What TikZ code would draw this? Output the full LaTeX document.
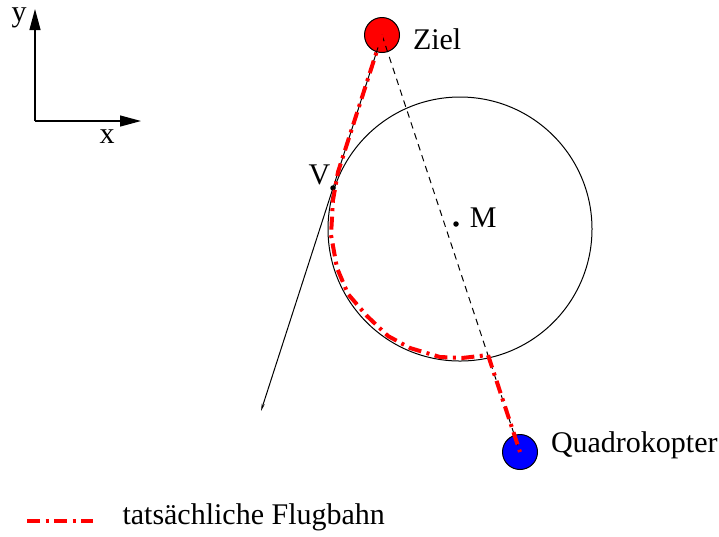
\documentclass[tikz,border=0pt]{standalone}
\usepackage{fontspec}
\setmainfont{Liberation Serif}
\usepackage{tikz}
\usetikzlibrary{arrows.meta, positioning}

\begin{document}
\begin{tikzpicture}[x=0.4pt,y=-0.4pt,>=Stealth,
    font=\fontsize{12}{14}\selectfont,
    kugel/.style={circle,draw,line width=0.4pt,minimum size=14pt,inner sep=0pt},
    punkt/.style={circle,fill,minimum size=2.2pt,inner sep=0pt},
    flugbahn/.style={red,line width=1.6pt,dash pattern=on 5.2pt off 2.2pt on 1.2pt off 2.2pt},
    beschr/.style={inner sep=0pt}]
  \useasboundingbox (0,0) rectangle (719,536);

  % Koordinatensystem
  \coordinate (ursprung) at (35,121);
  \coordinate (yachse) at (35,9);
  \coordinate (xachse) at (141,121);
  \draw[-{Triangle[length=8.4pt,width=4.4pt]},line width=0.5pt] (ursprung)--(yachse);
  \draw[-{Triangle[length=8.4pt,width=4.4pt]},line width=0.5pt] (ursprung)--(xachse);
  \node[beschr] (ylbl) at (19,18){y};
  \node[beschr] (xlbl) at (107,137){x};

  % Kreis um M
  \draw[line width=0.4pt] (460,229) circle[radius=52.8pt];

  \node[kugel,fill=red] (ziel) at (382,35){};
  \node[kugel,fill=blue] (quad) at (520,452){};
  \node[punkt] (mitte) at (456,224){};
  \node[punkt] (vpkt) at (333,188){};
  \coordinate (ende) at (261,411);

  \node[beschr,right=5pt of ziel,yshift=-1.8pt] (ziellbl){Ziel};
  \node[beschr,right=5pt of quad,yshift=2.8pt] (quadlbl){Quadrokopter};
  \node[beschr,right=4pt of mitte,yshift=2.4pt] (mlbl){M};
  \node[beschr,above left=0pt of vpkt] (vlbl){V};

  % Tangente und Verbindung
  \draw[-{Stealth[length=3pt,width=1.2pt]},line width=0.4pt] (ziel.center)--(vpkt.center)--(ende);
  \draw[line width=0.4pt,dash pattern=on 2.6pt off 2pt] (ziel.center)--(quad.center);

  % Flugbahn
  \draw[flugbahn] (ziel.center)--(338,172)--(333,200)--(331,235)--(337,268)
    --(348,294)--(367,316)--(388,336)--(410,348)--(440,357)--(462,358)
    --(488,355)--(quad.center);

  % Legende
  \coordinate (lga) at (27,521);
  \coordinate (lgb) at (93,521);
  \draw[flugbahn] (lga)--(lgb);
  \node[beschr,anchor=west] (legtext) at (122,517){tatsächliche Flugbahn};
\end{tikzpicture}
\end{document}
